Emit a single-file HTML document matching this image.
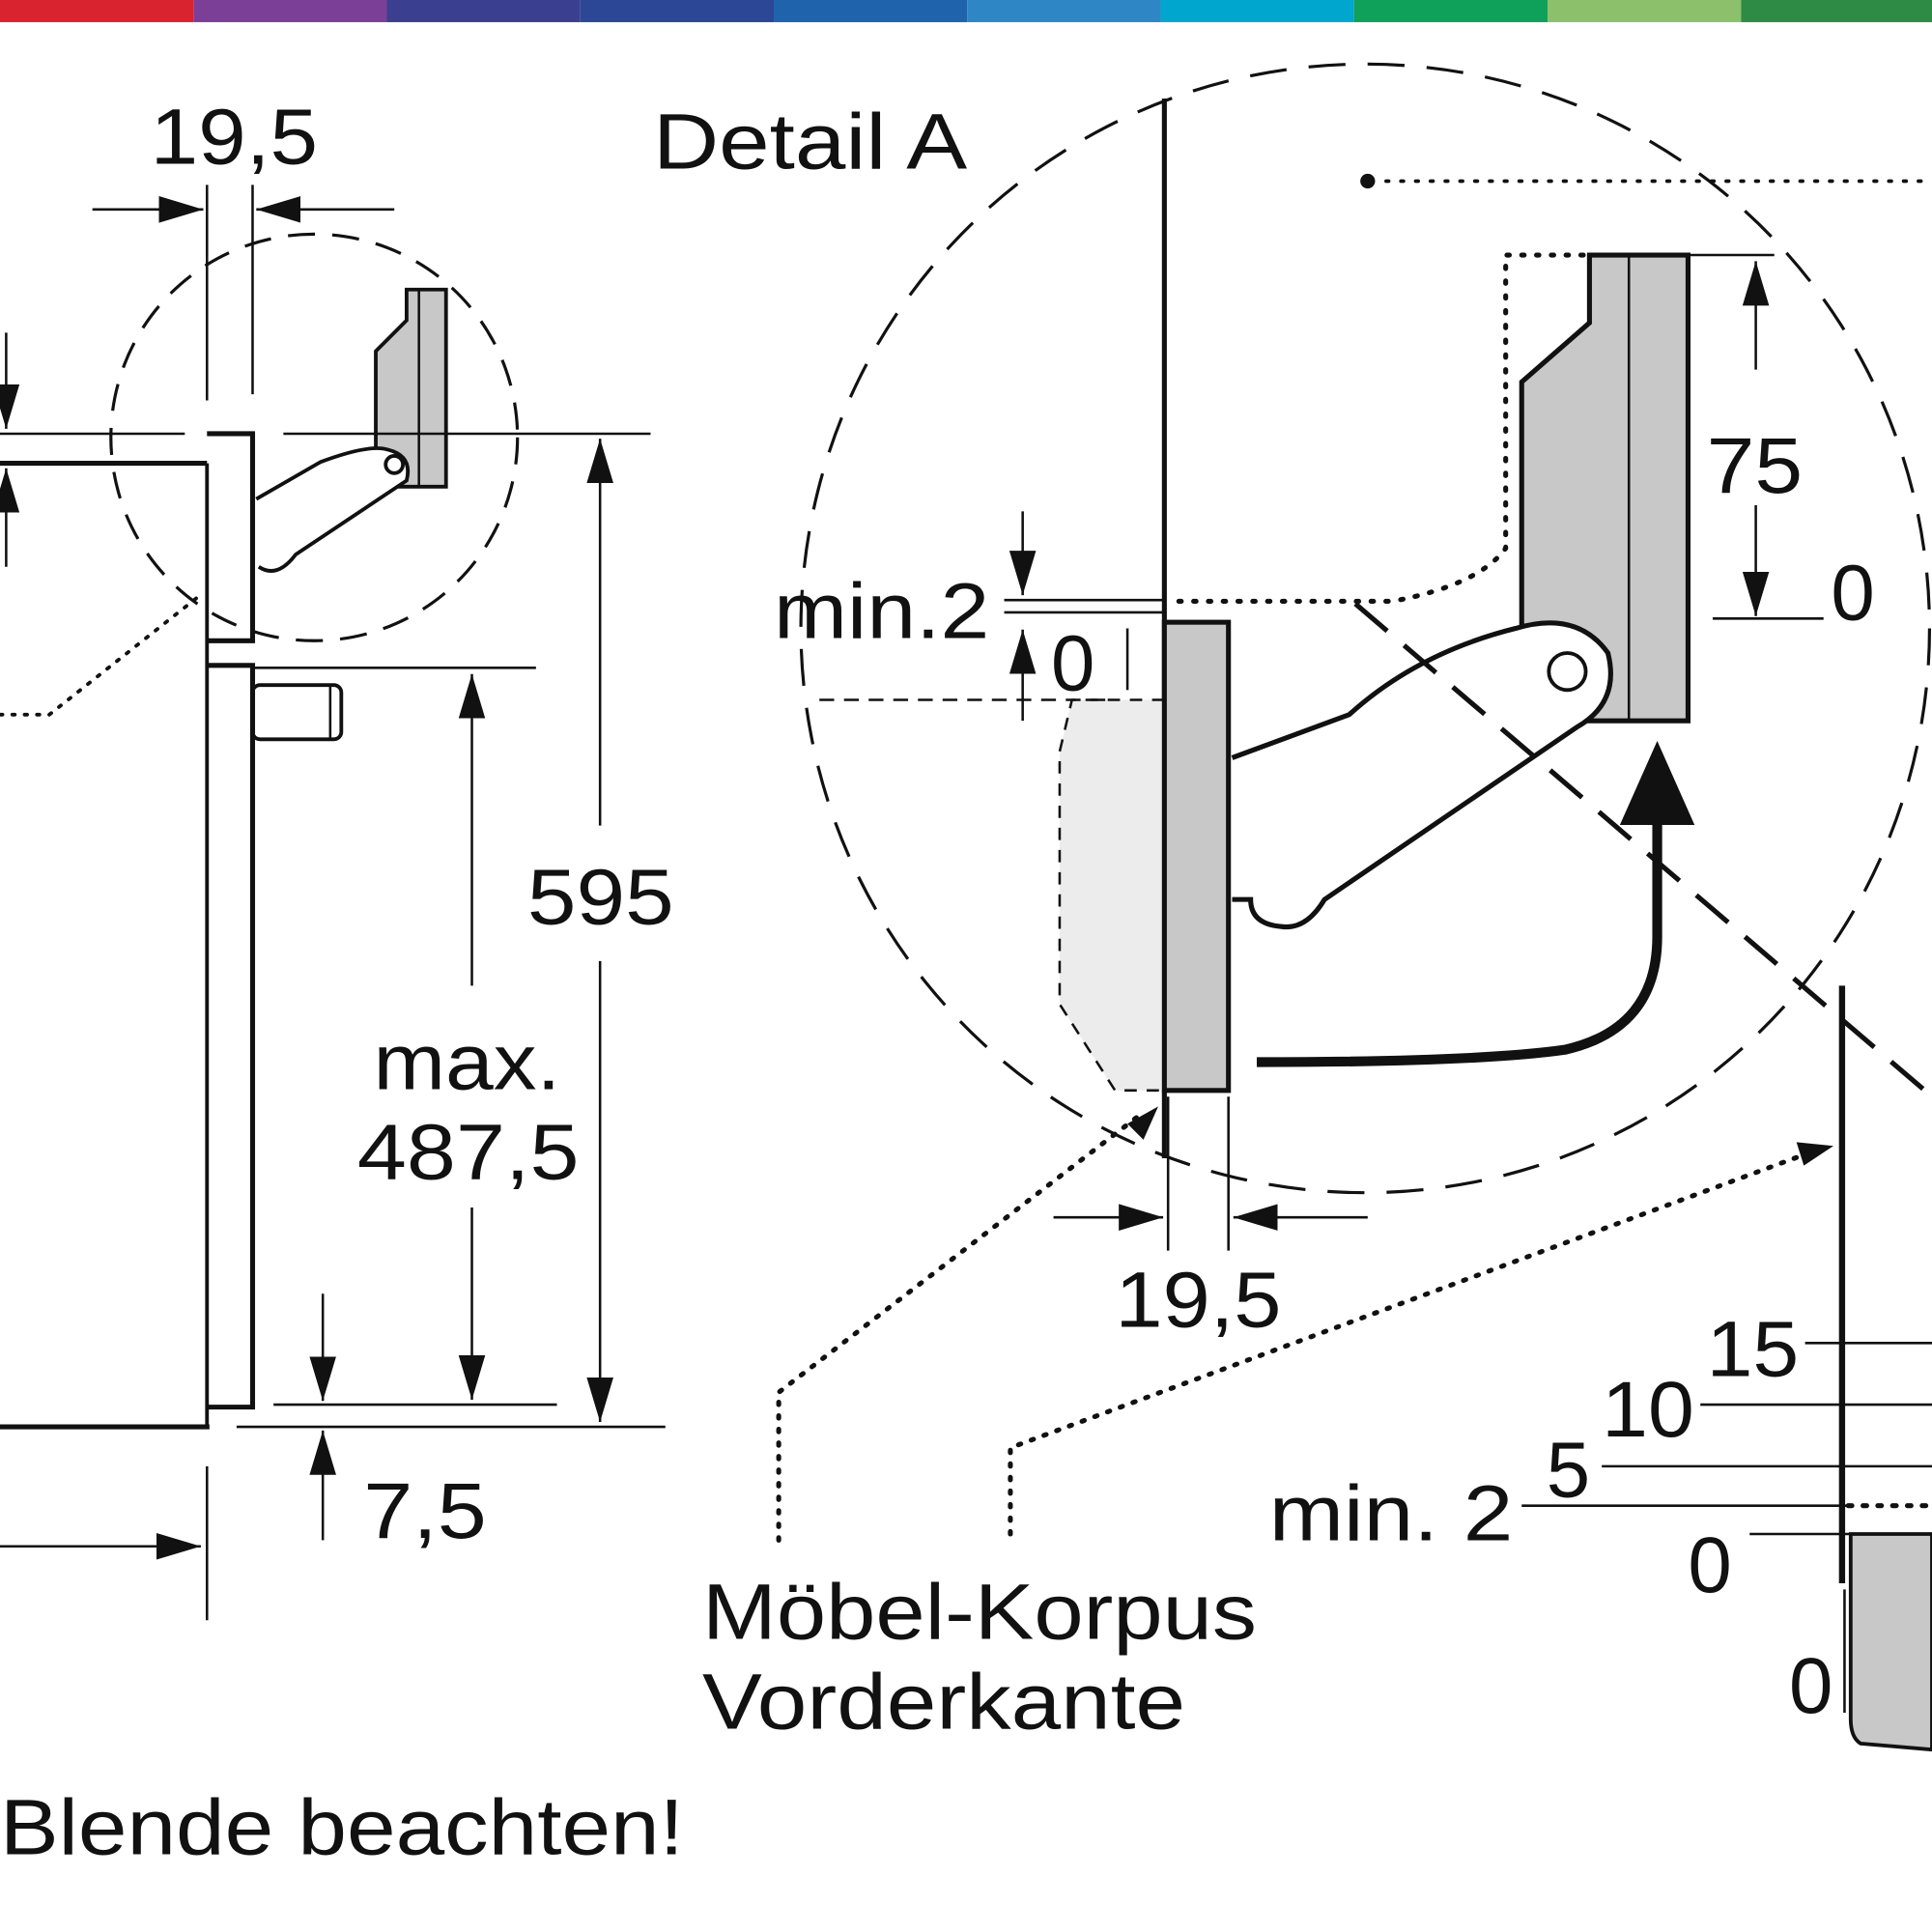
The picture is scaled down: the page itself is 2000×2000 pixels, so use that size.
<!DOCTYPE html>
<html><head><meta charset="utf-8"><style>
html,body{margin:0;padding:0;background:#fff;}
svg{display:block;}
text{font-family:"Liberation Sans",sans-serif;fill:#111;}
</style></head><body>
<svg width="2000" height="2000" viewBox="0 0 1568 1568" xmlns="http://www.w3.org/2000/svg">
<defs>
<marker id="b" viewBox="0 0 10 10" refX="10" refY="5" markerWidth="36" markerHeight="36" markerUnits="userSpaceOnUse" orient="auto"><path d="M0,2 L10,5 L0,8 z" fill="#111"/></marker>
</defs>
<rect x="0" y="0" width="157" height="18" fill="#d9232e"/>
<rect x="157" y="0" width="157" height="18" fill="#7b3f98"/>
<rect x="314" y="0" width="157" height="18" fill="#3b3f8f"/>
<rect x="471" y="0" width="157" height="18" fill="#2b4795"/>
<rect x="628" y="0" width="157" height="18" fill="#1f63ad"/>
<rect x="785" y="0" width="157" height="18" fill="#2f86c4"/>
<rect x="942" y="0" width="157" height="18" fill="#00a6ce"/>
<rect x="1099" y="0" width="157" height="18" fill="#0fa05a"/>
<rect x="1256" y="0" width="157" height="18" fill="#8cc06b"/>
<rect x="1413" y="0" width="155" height="18" fill="#2e8b45"/>

<g stroke="#111" fill="none" stroke-width="3">
<line x1="75" y1="170" x2="165" y2="170" stroke-width="2" marker-end="url(#b)"/>
<line x1="320" y1="170" x2="208" y2="170" stroke-width="2" marker-end="url(#b)"/>
<line x1="168" y1="150" x2="168" y2="325" stroke-width="2"/>
<line x1="205" y1="150" x2="205" y2="320" stroke-width="2"/>
<circle cx="255" cy="355" r="165" stroke-dasharray="22 14" stroke-width="2.5"/>
<path d="M330,235 L362,235 L362,395 L305,395 L305,285 L330,260 Z" fill="#c8c8c8"/>
<line x1="340" y1="235" x2="340" y2="395" stroke-width="2"/>
<path d="M208,405 L260,375 Q300,360 315,365 Q335,370 330,390 L240,450 Q225,470 210,460" fill="#fff"/>
<circle cx="320" cy="377" r="7"/>
<line x1="0" y1="352" x2="150" y2="352" stroke-width="2"/>
<line x1="230" y1="352" x2="528" y2="352" stroke-width="2"/>
<line x1="5" y1="270" x2="5" y2="348" stroke-width="2" marker-end="url(#b)"/>
<line x1="5" y1="460" x2="5" y2="380" stroke-width="2" marker-end="url(#b)"/>
<line x1="0" y1="376" x2="168" y2="376" stroke-width="4"/>
<line x1="0" y1="1158" x2="170" y2="1158" stroke-width="4"/>
<line x1="168" y1="376" x2="168" y2="1158" stroke-width="3"/>
<path d="M168,352 L205,352 L205,520 L168,520" stroke-width="4"/>
<path d="M168,540 L205,540 L205,1142 L168,1142" stroke-width="4"/>
<rect x="205" y="556" width="72" height="44" rx="6" stroke-width="3"/>
<line x1="268" y1="556" x2="268" y2="600" stroke-width="2"/>
<line x1="205" y1="542" x2="435" y2="542" stroke-width="2"/>
<line x1="383" y1="800" x2="383" y2="547" stroke-width="2" marker-end="url(#b)"/>
<line x1="383" y1="980" x2="383" y2="1136" stroke-width="2" marker-end="url(#b)"/>
<line x1="487" y1="670" x2="487" y2="356" stroke-width="2" marker-end="url(#b)"/>
<line x1="487" y1="780" x2="487" y2="1154" stroke-width="2" marker-end="url(#b)"/>
<line x1="222" y1="1140" x2="452" y2="1140" stroke-width="2"/>
<line x1="192" y1="1158" x2="540" y2="1158" stroke-width="2"/>
<line x1="262" y1="1050" x2="262" y2="1137" stroke-width="2" marker-end="url(#b)"/>
<line x1="262" y1="1250" x2="262" y2="1161" stroke-width="2" marker-end="url(#b)"/>
<line x1="0" y1="1255" x2="163" y2="1255" stroke-width="2" marker-end="url(#b)"/>
<line x1="168" y1="1190" x2="168" y2="1315" stroke-width="2"/>
<path d="M0,580 L40,580 L160,485" stroke-dasharray="2 8" stroke-linecap="round"/>

<circle cx="1108" cy="510" r="458" stroke-dasharray="30 18" stroke-width="2.5"/>
<line x1="945" y1="80" x2="945" y2="940" stroke-width="4"/>
<circle cx="1110" cy="147" r="6" fill="#111" stroke="none"/>
<line x1="1125" y1="147" x2="1568" y2="147" stroke-dasharray="2 10" stroke-linecap="round"/>
<path d="M1290,207 L1370,207 L1370,585 L1235,585 L1235,310 L1290,262 Z" fill="#c8c8c8" stroke-width="4"/>
<line x1="1322" y1="207" x2="1322" y2="585" stroke-width="2"/>
<path d="M1285,207 L1222,207 L1222,445 Q1200,475 1130,488 L950,488" stroke-dasharray="2 10" stroke-linecap="round" stroke-width="4"/>
<line x1="1425" y1="300" x2="1425" y2="212" stroke-width="2" marker-end="url(#b)"/>
<line x1="1425" y1="410" x2="1425" y2="500" stroke-width="2" marker-end="url(#b)"/>
<line x1="1370" y1="207" x2="1440" y2="207" stroke-width="2"/>
<line x1="1390" y1="502" x2="1480" y2="502" stroke-width="2"/>
<path d="M945,568 L870,568 L860,610 L860,815 L905,885 L945,885 Z" fill="#ececec" stroke-dasharray="10 8" stroke-width="2"/>
<line x1="665" y1="568" x2="905" y2="568" stroke-dasharray="12 8" stroke-width="2"/>
<rect x="945" y="505" width="52" height="380" fill="#c8c8c8" stroke-width="4"/>
<line x1="815" y1="487" x2="945" y2="487" stroke-width="2"/>
<line x1="815" y1="497" x2="945" y2="497" stroke-width="2"/>
<line x1="830" y1="415" x2="830" y2="483" stroke-width="2" marker-end="url(#b)"/>
<line x1="830" y1="585" x2="830" y2="511" stroke-width="2" marker-end="url(#b)"/>
<line x1="915" y1="510" x2="915" y2="560" stroke-width="2"/>
<path d="M1000,615 L1095,580 Q1150,530 1230,510 Q1280,495 1305,530 Q1315,570 1280,590 L1075,730 Q1060,755 1040,752 Q1015,750 1015,730 L1000,730" fill="#fff" stroke-width="4"/>
<circle cx="1272" cy="545" r="15" stroke-width="3"/>
<line x1="1100" y1="490" x2="1568" y2="890" stroke-dasharray="34 18" stroke-width="4"/>
<path d="M1020,862 Q1200,862 1270,852 Q1345,835 1345,760 L1345,660" stroke-width="8"/>
<path d="M1317,668 L1345,605 L1373,668 Z" fill="#111"/>
<line x1="948" y1="890" x2="948" y2="1015" stroke-width="2"/>
<line x1="997" y1="890" x2="997" y2="1015" stroke-width="2"/>
<line x1="855" y1="988" x2="944" y2="988" stroke-width="2" marker-end="url(#b)"/>
<line x1="1110" y1="988" x2="1001" y2="988" stroke-width="2" marker-end="url(#b)"/>
<path d="M632,1250 L632,1130 L925,905" stroke-dasharray="2 9" stroke-linecap="round" stroke-width="4"/>
<path d="M915,912 L940,898 L928,925 Z" fill="#111" stroke="none"/>
<path d="M820,1245 L820,1175 L1470,935" stroke-dasharray="2 9" stroke-linecap="round" stroke-width="4"/>
<path d="M1458,927 L1488,930 L1464,946 Z" fill="#111" stroke="none"/>
<line x1="1495" y1="800" x2="1495" y2="1285" stroke-width="5"/>
<line x1="1465" y1="1090" x2="1568" y2="1090" stroke-width="2"/>
<line x1="1380" y1="1140" x2="1568" y2="1140" stroke-width="2"/>
<line x1="1300" y1="1190" x2="1568" y2="1190" stroke-width="2"/>
<line x1="1235" y1="1222" x2="1500" y2="1222" stroke-width="2"/>
<line x1="1500" y1="1222" x2="1568" y2="1222" stroke-dasharray="3 9" stroke-linecap="round" stroke-width="4"/>
<line x1="1420" y1="1245" x2="1568" y2="1245" stroke-width="2"/>
<path d="M1502,1245 L1568,1245 L1568,1420 L1510,1415 Q1502,1410 1502,1395 Z" fill="#c8c8c8" stroke-width="3"/>
<line x1="1497" y1="1290" x2="1497" y2="1390" stroke-width="2"/>
</g>

<g font-size="64">
<text x="122" y="133" textLength="136" lengthAdjust="spacingAndGlyphs">19,5</text>
<text x="428" y="750" textLength="119" lengthAdjust="spacingAndGlyphs">595</text>
<text x="303" y="884" textLength="152" lengthAdjust="spacingAndGlyphs">max.</text>
<text x="290" y="957" textLength="180" lengthAdjust="spacingAndGlyphs">487,5</text>
<text x="295" y="1248" textLength="100" lengthAdjust="spacingAndGlyphs">7,5</text>
<text x="0" y="1505" textLength="555" lengthAdjust="spacingAndGlyphs">Blende beachten!</text>
<text x="530" y="137" textLength="255" lengthAdjust="spacingAndGlyphs">Detail A</text>
<text x="628" y="518" textLength="175" lengthAdjust="spacingAndGlyphs">min.2</text>
<text x="853" y="560">0</text>
<text x="1385" y="400" textLength="78" lengthAdjust="spacingAndGlyphs">75</text>
<text x="1486" y="503">0</text>
<text x="905" y="1077" textLength="135" lengthAdjust="spacingAndGlyphs">19,5</text>
<text x="570" y="1330" textLength="450" lengthAdjust="spacingAndGlyphs">Möbel-Korpus</text>
<text x="570" y="1403" textLength="392" lengthAdjust="spacingAndGlyphs">Vorderkante</text>
<text x="1385" y="1117" textLength="75" lengthAdjust="spacingAndGlyphs">15</text>
<text x="1300" y="1166" textLength="75" lengthAdjust="spacingAndGlyphs">10</text>
<text x="1255" y="1215">5</text>
<text x="1030" y="1250" textLength="198" lengthAdjust="spacingAndGlyphs">min. 2</text>
<text x="1370" y="1292">0</text>
<text x="1452" y="1390">0</text>
</g>
</svg>
</body></html>
